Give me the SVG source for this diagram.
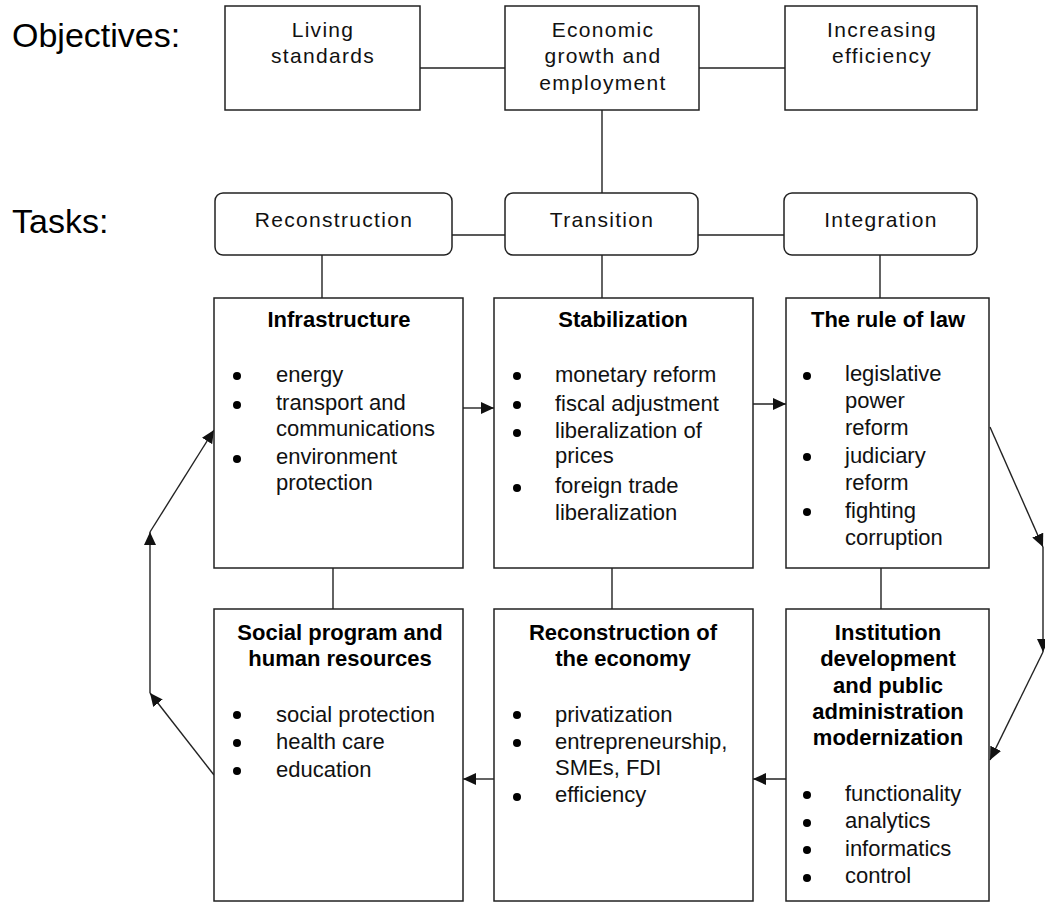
<svg xmlns="http://www.w3.org/2000/svg" width="1045" height="909" viewBox="0 0 1045 909">
<style>
.bg{fill:#fff}
.box{fill:#fff;stroke:#222;stroke-width:1.5}
.ln{fill:none;stroke:#222;stroke-width:1.4}
.hd{font-family:"Liberation Sans",Arial,sans-serif;font-size:34px;fill:#000}
.lb{font-family:"Liberation Sans",Arial,sans-serif;font-size:21px;letter-spacing:1.3px;fill:#111;text-anchor:middle}
.tt{font-family:"Liberation Sans",Arial,sans-serif;font-size:22px;font-weight:bold;fill:#000;text-anchor:middle}
.tx{font-family:"Liberation Sans",Arial,sans-serif;font-size:22px;fill:#111}
.bu{fill:#000}
</style>
<defs>
<marker id="ah" markerUnits="userSpaceOnUse" markerWidth="14" markerHeight="12" refX="13" refY="6" orient="auto">
<path d="M0,0 L13,6 L0,12 Z" fill="#111"/>
</marker>
</defs>
<rect class="bg" x="0" y="0" width="1045" height="909"/>
<text class="hd" x="12" y="47">Objectives:</text>
<text class="hd" x="12" y="233">Tasks:</text>

<g id="connectors">
<line class="ln" x1="420" y1="68" x2="505" y2="68"/>
<line class="ln" x1="699" y1="68" x2="785" y2="68"/>
<line class="ln" x1="602" y1="110" x2="602" y2="193"/>
<line class="ln" x1="452" y1="235" x2="505" y2="235"/>
<line class="ln" x1="698" y1="235" x2="784" y2="235"/>
<line class="ln" x1="322" y1="255" x2="322" y2="298"/>
<line class="ln" x1="602" y1="255" x2="602" y2="298"/>
<line class="ln" x1="880" y1="255" x2="880" y2="298"/>
<line class="ln" x1="333" y1="568" x2="333" y2="609"/>
<line class="ln" x1="612" y1="568" x2="612" y2="609"/>
<line class="ln" x1="881" y1="568" x2="881" y2="609"/>
<line class="ln" x1="463" y1="408" x2="494" y2="408" marker-end="url(#ah)"/>
<line class="ln" x1="753" y1="404" x2="786" y2="404" marker-end="url(#ah)"/>
<line class="ln" x1="786" y1="779" x2="753" y2="779" marker-end="url(#ah)"/>
<line class="ln" x1="494" y1="779" x2="463" y2="779" marker-end="url(#ah)"/>
<line class="ln" x1="214" y1="775" x2="150" y2="693" marker-end="url(#ah)"/>
<line class="ln" x1="150" y1="693" x2="150" y2="532" marker-end="url(#ah)"/>
<line class="ln" x1="150" y1="532" x2="214" y2="430" marker-end="url(#ah)"/>
<line class="ln" x1="990" y1="427" x2="1043" y2="547" marker-end="url(#ah)"/>
<line class="ln" x1="1043" y1="547" x2="1043" y2="652" marker-end="url(#ah)"/>
<line class="ln" x1="1043" y1="652" x2="990" y2="760" marker-end="url(#ah)"/>
</g>

<g id="obj-living">
<rect class="box" x="225" y="6" width="195" height="104"/>
<text class="lb" x="323" y="37">Living</text>
<text class="lb" x="323" y="63">standards</text>
</g>
<g id="obj-economic">
<rect class="box" x="505" y="6" width="194" height="104"/>
<text class="lb" x="603" y="37">Economic</text>
<text class="lb" x="603" y="63">growth and</text>
<text class="lb" x="603" y="90">employment</text>
</g>
<g id="obj-efficiency">
<rect class="box" x="785" y="6" width="192" height="104"/>
<text class="lb" x="882" y="37">Increasing</text>
<text class="lb" x="882" y="63">efficiency</text>
</g>

<g id="task-reconstruction">
<rect class="box" x="215" y="193" width="237" height="62" rx="8"/>
<text class="lb" x="334" y="227">Reconstruction</text>
</g>
<g id="task-transition">
<rect class="box" x="505" y="193" width="193" height="62" rx="8"/>
<text class="lb" x="602" y="227">Transition</text>
</g>
<g id="task-integration">
<rect class="box" x="784" y="193" width="193" height="62" rx="8"/>
<text class="lb" x="881" y="227">Integration</text>
</g>

<g id="infrastructure">
<rect class="box" x="214" y="298" width="249" height="270"/>
<text class="tt" x="339" y="327">Infrastructure</text>
<circle class="bu" cx="237" cy="376" r="4"/>
<circle class="bu" cx="237" cy="405" r="4"/>
<circle class="bu" cx="237" cy="459" r="4"/>
<text class="tx" x="276" y="382">energy</text>
<text class="tx" x="276" y="410">transport and</text>
<text class="tx" x="276" y="436">communications</text>
<text class="tx" x="276" y="464">environment</text>
<text class="tx" x="276" y="490">protection</text>
</g>

<g id="stabilization">
<rect class="box" x="494" y="298" width="259" height="270"/>
<text class="tt" x="623" y="327">Stabilization</text>
<circle class="bu" cx="517" cy="376" r="4"/>
<circle class="bu" cx="517" cy="405" r="4"/>
<circle class="bu" cx="517" cy="433" r="4"/>
<circle class="bu" cx="517" cy="488" r="4"/>
<text class="tx" x="555" y="382">monetary reform</text>
<text class="tx" x="555" y="411">fiscal adjustment</text>
<text class="tx" x="555" y="438">liberalization of</text>
<text class="tx" x="555" y="463">prices</text>
<text class="tx" x="555" y="493">foreign trade</text>
<text class="tx" x="555" y="520">liberalization</text>
</g>

<g id="rule-of-law">
<rect class="box" x="786" y="298" width="203" height="270"/>
<text class="tt" x="888" y="327">The rule of law</text>
<circle class="bu" cx="807" cy="376" r="4"/>
<circle class="bu" cx="807" cy="457" r="4"/>
<circle class="bu" cx="807" cy="512" r="4"/>
<text class="tx" x="845" y="381">legislative</text>
<text class="tx" x="845" y="408">power</text>
<text class="tx" x="845" y="435">reform</text>
<text class="tx" x="845" y="463">judiciary</text>
<text class="tx" x="845" y="490">reform</text>
<text class="tx" x="845" y="518">fighting</text>
<text class="tx" x="845" y="545">corruption</text>
</g>

<g id="social">
<rect class="box" x="214" y="609" width="249" height="292"/>
<text class="tt" x="340" y="640">Social program and</text>
<text class="tt" x="340" y="666">human resources</text>
<circle class="bu" cx="237" cy="715" r="4"/>
<circle class="bu" cx="237" cy="743" r="4"/>
<circle class="bu" cx="237" cy="771" r="4"/>
<text class="tx" x="276" y="722">social protection</text>
<text class="tx" x="276" y="749">health care</text>
<text class="tx" x="276" y="777">education</text>
</g>

<g id="reconstruction-economy">
<rect class="box" x="494" y="609" width="259" height="292"/>
<text class="tt" x="623" y="640">Reconstruction of</text>
<text class="tt" x="623" y="666">the economy</text>
<circle class="bu" cx="517" cy="715" r="4"/>
<circle class="bu" cx="517" cy="743" r="4"/>
<circle class="bu" cx="517" cy="797" r="4"/>
<text class="tx" x="555" y="722">privatization</text>
<text class="tx" x="555" y="749">entrepreneurship,</text>
<text class="tx" x="555" y="775">SMEs, FDI</text>
<text class="tx" x="555" y="802">efficiency</text>
</g>

<g id="institution">
<rect class="box" x="786" y="609" width="203" height="292"/>
<text class="tt" x="888" y="640">Institution</text>
<text class="tt" x="888" y="666">development</text>
<text class="tt" x="888" y="693">and public</text>
<text class="tt" x="888" y="719">administration</text>
<text class="tt" x="888" y="745">modernization</text>
<circle class="bu" cx="807" cy="795" r="4"/>
<circle class="bu" cx="807" cy="823" r="4"/>
<circle class="bu" cx="807" cy="850" r="4"/>
<circle class="bu" cx="807" cy="878" r="4"/>
<text class="tx" x="845" y="801">functionality</text>
<text class="tx" x="845" y="828">analytics</text>
<text class="tx" x="845" y="856">informatics</text>
<text class="tx" x="845" y="883">control</text>
</g>
</svg>
